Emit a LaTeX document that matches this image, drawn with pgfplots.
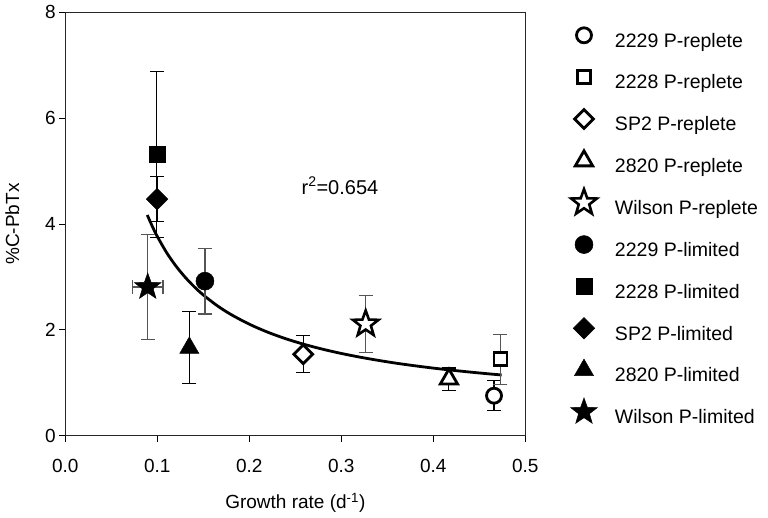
\documentclass[border=0pt]{standalone}
\usepackage{fontspec}
\setmainfont{Liberation Sans}
\usepackage{pgfplots}
\pgfplotsset{compat=1.18}

\pgfdeclareplotmark{starfive}{%
  \pgfpathmoveto{\pgfpointpolar{90}{\pgfplotmarksize}}%
  \pgfpathlineto{\pgfpointpolar{126}{0.41\pgfplotmarksize}}%
  \pgfpathlineto{\pgfpointpolar{162}{\pgfplotmarksize}}%
  \pgfpathlineto{\pgfpointpolar{198}{0.41\pgfplotmarksize}}%
  \pgfpathlineto{\pgfpointpolar{234}{\pgfplotmarksize}}%
  \pgfpathlineto{\pgfpointpolar{270}{0.41\pgfplotmarksize}}%
  \pgfpathlineto{\pgfpointpolar{306}{\pgfplotmarksize}}%
  \pgfpathlineto{\pgfpointpolar{342}{0.41\pgfplotmarksize}}%
  \pgfpathlineto{\pgfpointpolar{18}{\pgfplotmarksize}}%
  \pgfpathlineto{\pgfpointpolar{54}{0.41\pgfplotmarksize}}%
  \pgfpathclose
  \pgfusepathqfillstroke
}

\definecolor{ebgray}{RGB}{85,85,85}

\pgfplotsset{
  openm/.style={only marks, mark options={draw=black, fill=white, line width=2.8pt, solid, #1}},
  openm/.default={},
  fillm/.style={only marks, mark options={draw=black, fill=black, line width=0.5pt, solid, #1}},
  fillm/.default={},
  ebars/.style={error bars/.cd, y dir=both, y explicit,
     error bar style={line width=1.1pt, color=#1},
     error mark options={rotate=90, mark size=7pt, line width=1.1pt, color=#1}},
}

\begin{document}
\begin{tikzpicture}
\useasboundingbox (-65.3pt,-82.3pt) rectangle (702.7pt,435.7pt);
\begin{axis}[
  scale only axis,
  width=460pt, height=423.4pt,
  xmin=0, xmax=0.5, ymin=0, ymax=8,
  xtick={0,0.1,0.2,0.3,0.4,0.5},
  ytick={0,2,4,6,8},
  xtick pos=bottom, ytick pos=left,
  tick align=outside,
  major tick length=6pt,
  tick style={black, line width=0.8pt},
  axis line style={line width=0.9pt, black!85},
  /pgf/number format/assume math mode=true,
  tick label style={font=\fontsize{19}{23}\selectfont},
  xticklabel style={yshift=-14pt, /pgf/number format/.cd, fixed, fixed zerofill, precision=1},
  label style={font=\fontsize{19}{23}\selectfont},
  xlabel={Growth rate (d\textsuperscript{-1})},
  ylabel={\%C-PbTx},
  xlabel style={at={(axis description cs:0.5,-0.159)}, anchor=center},
  ylabel style={at={(axis description cs:-0.115,0.5)}, anchor=center},
  legend style={draw=none, fill=none, inner sep=0pt, outer sep=0pt,
    at={(axis description cs:1.1276,0.951)}, anchor=north west,
    font=\fontsize{19.5}{23}\selectfont,
    column sep=31pt, row sep=23.35pt,
    nodes={inner sep=0pt, text height=14pt, text depth=4.5pt}},
  legend cell align=left,
  legend image code/.code={\draw[#1, overlay] plot coordinates {(0pt,7pt)};},
  clip=false,
]
% fitted trend line
\addplot[black, line width=2.8pt, smooth, forget plot] coordinates {
 (0.0891,4.170) (0.095,3.940) (0.10,3.765) (0.11,3.463) (0.12,3.212)
 (0.13,3.000) (0.14,2.817) (0.15,2.659) (0.165,2.458) (0.18,2.291)
 (0.20,2.107) (0.22,1.956) (0.24,1.830) (0.26,1.724) (0.28,1.633)
 (0.30,1.554) (0.32,1.485) (0.34,1.424) (0.36,1.369) (0.38,1.321)
 (0.40,1.277) (0.42,1.238) (0.44,1.202) (0.46,1.169) (0.4743,1.147)};

% P-replete (open)
\addplot[openm, mark=*, mark size=7.5pt, ebars=black] coordinates {(0.466,0.756) +- (0,0.28)};
\addlegendentry{2229 P-replete}
\addplot[openm, mark=square*, mark size=6.5pt, ebars=ebgray] coordinates {(0.473,1.444) +- (0,0.47)};
\addlegendentry{2228 P-replete}
\addplot[openm={rotate=45}, mark=square*, mark size=6.6pt, ebars=black] coordinates {(0.2587,1.539) +- (0,0.35)};
\addlegendentry{SP2 P-replete}
\addplot[openm, mark=triangle*, mark size=10pt, ebars=black] coordinates {(0.417,1.07) +- (0,0.21)};
\addlegendentry{2820 P-replete}
\addplot[openm={line width=2.6pt}, mark=starfive, mark size=13.5pt, ebars=ebgray] coordinates {(0.3265,2.11) +- (0,0.54)};
\addlegendentry{Wilson P-replete}

% P-limited (filled)
\addplot[fillm, mark=*, mark size=9pt, ebars=ebgray] coordinates {(0.1518,2.92) +- (0,0.62)};
\addlegendentry{2229 P-limited}
\addplot[fillm, mark=square*, mark size=8pt, ebars=black] coordinates {(0.0995,5.31) +- (0,1.57)};
\addlegendentry{2228 P-limited}
\addplot[fillm={rotate=45}, mark=square*, mark size=7.6pt, ebars=black] coordinates {(0.0997,4.47) +- (0,0.42)};
\addlegendentry{SP2 P-limited}
\addplot[fillm, mark=triangle*, mark size=11pt, ebars=black] coordinates {(0.1348,1.66) +- (0,0.68)};
\addlegendentry{2820 P-limited}
\addplot[fillm, mark=starfive, mark size=14pt,
  error bars/.cd, y dir=both, y explicit, x dir=both, x explicit,
  error bar style={line width=1.1pt, color=ebgray},
  error mark options={rotate=90, mark size=7pt, line width=1.1pt, color=ebgray}]
  coordinates {(0.0896,2.81) +- (0.0166,1.0)};
\addlegendentry{Wilson P-limited}

\node[anchor=west, font=\fontsize{20}{23}\selectfont] at (axis cs:0.253,4.72) {r\textsuperscript{2}=0.654};
\end{axis}
\end{tikzpicture}
\end{document}
